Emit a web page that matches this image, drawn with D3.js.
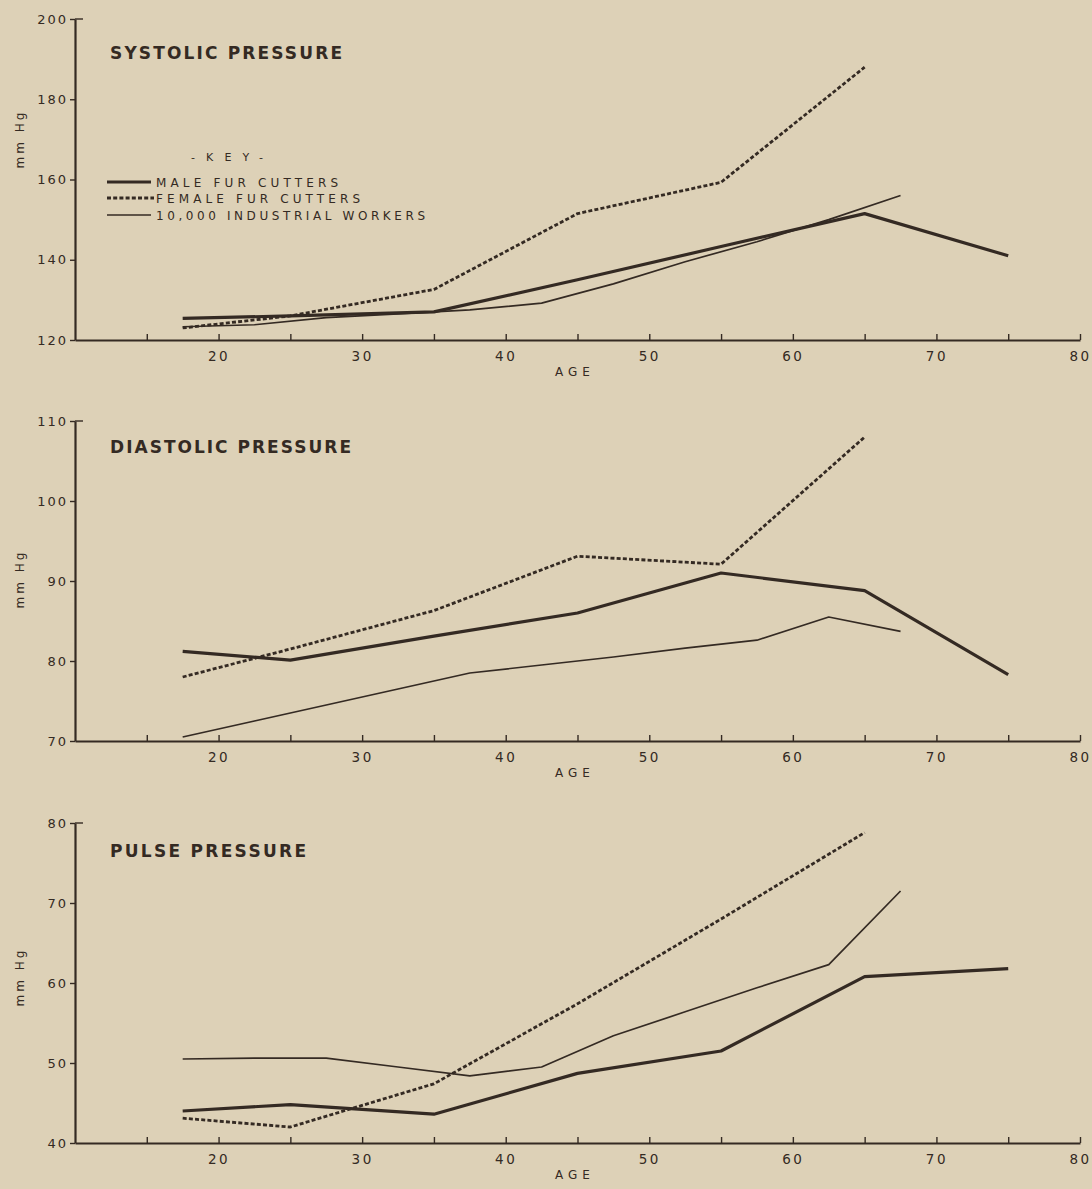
<!DOCTYPE html>
<html>
<head>
<meta charset="utf-8">
<script src="https://cdn.jsdelivr.net/npm/d3@7"></script>
<style>
  html, body { margin: 0; padding: 0; background: #ddd1b7; }
  svg { display: block; }
  text { font-family: "DejaVu Sans", sans-serif; fill: #342a23; }
</style>
</head>
<body>
<svg id="chart" width="1092" height="1189"></svg>
<script>
// ---- DATA ----
const furAges = [17.5, 25, 35, 45, 55, 65, 75];
const industrialAges = [17.5, 22.5, 27.5, 32.5, 37.5, 42.5, 47.5, 52.5, 57.5, 62.5, 67.5];

const systolicMale = [125.4, 126.0, 127.0, 135.0, 143.3, 151.5, 141.0];
const systolicFemale = [123.0, 126.0, 132.6, 151.5, 159.3, 188.0];
const systolicIndustrial = [123.3, 123.8, 125.6, 126.5, 127.5, 129.2, 134.0, 139.5, 144.5, 150.0, 156.0];

const diastolicMale = [81.2, 80.1, 83.1, 86.0, 91.0, 88.8, 78.3];
const diastolicFemale = [78.0, 81.5, 86.3, 93.1, 92.1, 108.0];
const diastolicIndustrial = [70.5, 72.5, 74.5, 76.5, 78.5, 79.5, 80.5, 81.6, 82.6, 85.5, 83.7];

const pulseMale = [44.0, 44.8, 43.6, 48.7, 51.5, 60.8, 61.8];
const pulseFemale = [43.1, 42.0, 47.4, 57.4, 68.0, 78.8];
const pulseIndustrial = [50.5, 50.6, 50.6, 49.5, 48.4, 49.5, 53.4, 56.4, 59.4, 62.3, 71.5];

const systolicTicks = [120, 140, 160, 180, 200];
const diastolicTicks = [70, 80, 90, 100, 110];
const pulseTicks = [40, 50, 60, 70, 80];
const ageTicks = [15, 20, 25, 30, 35, 40, 45, 50, 55, 60, 65, 70, 75, 80];
const ageLabels = [20, 30, 40, 50, 60, 70, 80];

const legendLabels = ["MALE FUR CUTTERS", "FEMALE FUR CUTTERS", "10,000 INDUSTRIAL WORKERS"];
const titles = ["SYSTOLIC PRESSURE", "DIASTOLIC PRESSURE", "PULSE PRESSURE"];

// ---- LAYOUT ----
const INK = "#342a23";
const svg = d3.select("#chart");
const x = d3.scaleLinear().domain([10, 80]).range([75, 1080]);

const panels = [
  { title: titles[0], ticks: systolicTicks, top: 19, bottom: 340, titleY: 52, titleW: 232, unitY: 139,
    male: systolicMale, female: systolicFemale, ind: systolicIndustrial, legend: true },
  { title: titles[1], ticks: diastolicTicks, top: 421, bottom: 741, titleY: 446, titleW: 241, unitY: 579,
    male: diastolicMale, female: diastolicFemale, ind: diastolicIndustrial, legend: false },
  { title: titles[2], ticks: pulseTicks, top: 823, bottom: 1143, titleY: 850, titleW: 196, unitY: 977,
    male: pulseMale, female: pulseFemale, ind: pulseIndustrial, legend: false }
];

const styles = {
  male: { w: 3.2, dash: null },
  female: { w: 2.8, dash: "4 2.2" },
  ind: { w: 1.7, dash: null }
};

panels.forEach(p => {
  const y = d3.scaleLinear().domain(d3.extent(p.ticks)).range([p.bottom, p.top]);
  const g = svg.append("g");

  // Y axis
  const yAxis = d3.axisLeft(y).tickValues(p.ticks).tickSize(5).tickSizeOuter(0).tickPadding(2);
  const ya = g.append("g").attr("transform", "translate(75,0)").call(yAxis);
  ya.select(".domain").attr("stroke", INK).attr("stroke-width", 2.2);
  ya.selectAll(".tick line").attr("stroke", INK).attr("stroke-width", 1.4);
  ya.selectAll(".tick text")
    .attr("font-size", 13).attr("letter-spacing", "2px").attr("fill", INK)
    .style("font-family", "DejaVu Sans, sans-serif");
  g.append("line").attr("x1", 75).attr("x2", 83).attr("y1", p.top).attr("y2", p.top)
    .attr("stroke", INK).attr("stroke-width", 1.4);

  // X axis
  const xAxis = d3.axisBottom(x).tickValues(ageTicks).tickSize(-6).tickSizeOuter(0)
    .tickFormat(d => ageLabels.includes(d) ? d : "");
  const xa = g.append("g").attr("transform", `translate(0,${p.bottom})`).call(xAxis);
  xa.select(".domain").attr("stroke", INK).attr("stroke-width", 2.2);
  xa.selectAll(".tick line").attr("stroke", INK).attr("stroke-width", 1.4);
  xa.selectAll(".tick text")
    .attr("y", 11).attr("font-size", 13.5).attr("letter-spacing", "2.5px").attr("fill", INK)
    .style("font-family", "DejaVu Sans, sans-serif");

  // Axis titles
  g.append("text").attr("x", 575).attr("y", p.bottom + 36)
    .attr("text-anchor", "middle").attr("font-size", 12).attr("letter-spacing", "5px")
    .text("AGE");
  g.append("text").attr("transform", `translate(24,${p.unitY}) rotate(-90)`)
    .attr("text-anchor", "middle").attr("font-size", 12).attr("letter-spacing", "3px")
    .text("mm Hg");

  // Title
  g.append("text").attr("x", 110).attr("y", p.titleY + 6.5)
    .attr("font-size", 17).attr("font-weight", "bold")
    .attr("textLength", p.titleW).attr("lengthAdjust", "spacing")
    .text(p.title);

  // Lines
  const line = d3.line().x(d => x(d[0])).y(d => y(d[1]));
  const series = [
    { data: industrialAges.map((a, i) => [a, p.ind[i]]), s: styles.ind },
    { data: furAges.slice(0, p.male.length).map((a, i) => [a, p.male[i]]), s: styles.male },
    { data: furAges.slice(0, p.female.length).map((a, i) => [a, p.female[i]]), s: styles.female }
  ];
  series.forEach(se => {
    g.append("path").datum(se.data).attr("d", line)
      .attr("fill", "none").attr("stroke", INK)
      .attr("stroke-width", se.s.w)
      .attr("stroke-dasharray", se.s.dash)
      .attr("stroke-linejoin", "round");
  });

  // Legend
  if (p.legend) {
    const lg = g.append("g");
    lg.append("text").attr("x", 191).attr("y", 161)
      .attr("font-size", 11).attr("textLength", 72).attr("lengthAdjust", "spacing").text("-KEY-");
    const rows = [
      { s: styles.male, y: 182, label: legendLabels[0], w: 182, x2: 151 },
      { s: styles.female, y: 198, label: legendLabels[1], w: 204, x2: 154 },
      { s: styles.ind, y: 215, label: legendLabels[2], w: 269, x2: 151 }
    ];
    rows.forEach(r => {
      lg.append("line").attr("x1", 107).attr("x2", r.x2).attr("y1", r.y).attr("y2", r.y)
        .attr("stroke", INK).attr("stroke-width", r.s.w).attr("stroke-dasharray", r.s.dash);
      lg.append("text").attr("x", 156).attr("y", r.y + 4.5)
        .attr("font-size", 12).attr("textLength", r.w).attr("lengthAdjust", "spacing")
        .text(r.label);
    });
  }
});
</script>
</body>
</html>
